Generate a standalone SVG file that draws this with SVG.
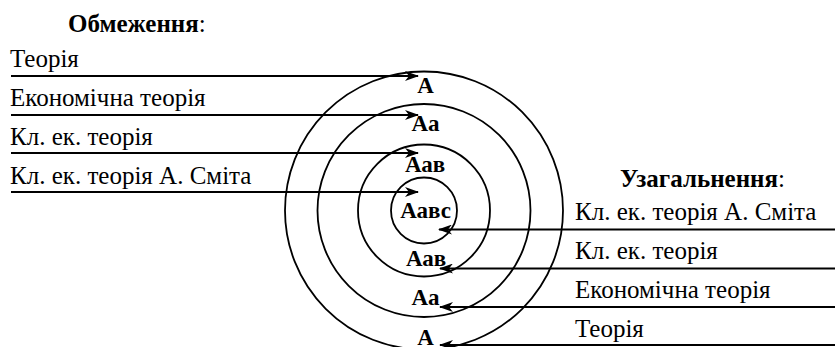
<svg xmlns="http://www.w3.org/2000/svg" width="835" height="347" viewBox="0 0 835 347">
  <style>
    .ring { fill: none; stroke: #000; stroke-width: 1.8; }
    .ln { fill: none; stroke: #000; stroke-width: 1.8; }
  </style>
  <defs>
    <marker id="arr" viewBox="0 0 14 10" refX="13" refY="5" markerWidth="14" markerHeight="10" markerUnits="userSpaceOnUse" orient="auto">
      <path d="M0,0 L14,5 L0,10 L4,5 Z" fill="#000"/>
    </marker>
  </defs>
  <rect width="835" height="347" fill="#fff"/>

  <!-- concentric scopes -->
  <g id="rings">
    <circle class="ring" cx="424" cy="210.5" r="139"/>
    <circle class="ring" cx="424" cy="210.5" r="106.5"/>
    <circle class="ring" cx="424" cy="210.5" r="66"/>
    <circle class="ring" cx="424" cy="210.5" r="33"/>
  </g>

  <g id="ring-labels">
    <text font-family="Liberation Serif" font-size="23" font-weight="bold" text-anchor="middle" x="425.5" y="92.5">А</text>
    <text font-family="Liberation Serif" font-size="23" font-weight="bold" text-anchor="middle" x="425.5" y="131">Аа</text>
    <text font-family="Liberation Serif" font-size="23" font-weight="bold" text-anchor="middle" x="425" y="172">Аав</text>
    <text font-family="Liberation Serif" font-size="23" font-weight="bold" text-anchor="middle" x="425.5" y="218">Аавс</text>
    <text font-family="Liberation Serif" font-size="23" font-weight="bold" text-anchor="middle" x="426" y="266">Аав</text>
    <text font-family="Liberation Serif" font-size="23" font-weight="bold" text-anchor="middle" x="425.5" y="305">Аа</text>
    <text font-family="Liberation Serif" font-size="23" font-weight="bold" text-anchor="middle" x="425.5" y="345">А</text>
  </g>

  <g id="restriction">
    <text font-family="Liberation Serif" font-size="25" x="68" y="32"><tspan font-weight="bold">Обмеження</tspan>:</text>
    <text font-family="Liberation Serif" font-size="25" x="10" y="67">Теорія</text>
    <text font-family="Liberation Serif" font-size="25" x="10" y="106">Економічна теорія</text>
    <text font-family="Liberation Serif" font-size="25" x="10" y="145">Кл. ек. теорія</text>
    <text font-family="Liberation Serif" font-size="25" x="10" y="184">Кл. ек. теорія А. Сміта</text>
  </g>

  <g id="generalization">
    <text font-family="Liberation Serif" font-size="25" x="620" y="187"><tspan font-weight="bold">Узагальнення</tspan>:</text>
    <text font-family="Liberation Serif" font-size="25" x="575" y="220">Кл. ек. теорія А. Сміта</text>
    <text font-family="Liberation Serif" font-size="25" x="575" y="259">Кл. ек. теорія</text>
    <text font-family="Liberation Serif" font-size="25" x="575" y="298">Економічна теорія</text>
    <text font-family="Liberation Serif" font-size="25" x="575" y="337">Теорія</text>
  </g>

  <g id="connectors">
    <path class="ln" d="M11,76 H418" marker-end="url(#arr)"/>
    <path class="ln" d="M11,115 H418" marker-end="url(#arr)"/>
    <path class="ln" d="M11,153 H418" marker-end="url(#arr)"/>
    <path class="ln" d="M11,192 H418" marker-end="url(#arr)"/>
    <path class="ln" d="M835,229.5 H439" marker-end="url(#arr)"/>
    <path class="ln" d="M835,268.5 H440" marker-end="url(#arr)"/>
    <path class="ln" d="M835,307 H440" marker-end="url(#arr)"/>
    <path class="ln" d="M835,345 H440" marker-end="url(#arr)"/>
  </g>
</svg>
